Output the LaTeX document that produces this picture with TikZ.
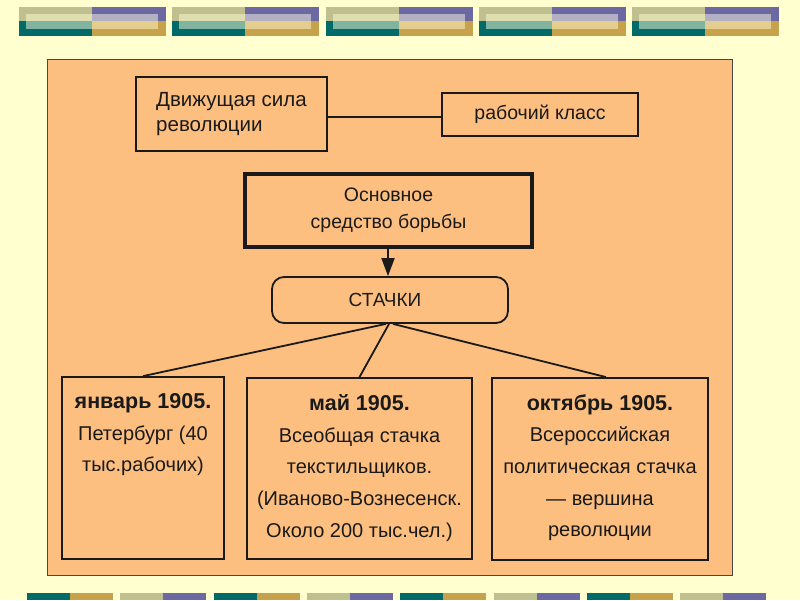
\documentclass[tikz,border=0pt]{standalone}
\usepackage{fontspec}
\setmainfont{Liberation Sans}
\usetikzlibrary{arrows.meta,calc}
\definecolor{bgyel}{HTML}{FFFFD0}
\definecolor{panel}{HTML}{FDBF80}
\definecolor{khaki}{HTML}{BFBF8F}
\definecolor{purp}{HTML}{6C68A2}
\definecolor{lkhaki}{HTML}{DEDEAE}
\definecolor{lav}{HTML}{B2B0C2}
\definecolor{lteal}{HTML}{80B4A0}
\definecolor{lgold}{HTML}{E3CE8E}
\definecolor{teal}{HTML}{006B68}
\definecolor{gold}{HTML}{C6A24C}
\definecolor{ink}{HTML}{1A1A1A}
\newcommand{\headfont}{\fontsize{21.5}{31.7}\selectfont\bfseries}
\begin{document}
\begin{tikzpicture}[x=1pt,y=-1pt,
  txt/.style={font=\fontsize{19}{25}\selectfont, text=ink},
  box/.style={draw=ink, line width=1.8pt, inner sep=0pt},
  conn/.style={draw=ink, line width=1.8pt},
  boxtxt/.style={font=\fontsize{20}{31.7}\selectfont, text=ink, align=center, inner sep=0pt, anchor=north}]
\useasboundingbox[fill=bgyel] (0,0) rectangle (800,600);
% top decorative bar
\foreach \i in {0,...,4}{
  \pgfmathsetmacro\x{19+153.25*\i}
  \fill[khaki] (\x,7) rectangle (\x+73,21);
  \fill[purp] (\x+73,7) rectangle (\x+147,21);
  \fill[teal] (\x,21) rectangle (\x+73,36);
  \fill[gold] (\x+73,21) rectangle (\x+147,36);
  \fill[lkhaki] (\x+7,14) rectangle (\x+73,21);
  \fill[lav] (\x+73,14) rectangle (\x+139,21);
  \fill[lteal] (\x+7,21) rectangle (\x+73,29);
  \fill[lgold] (\x+73,21) rectangle (\x+139,29);
}
% bottom decorative bar
\foreach \i in {0,2,4,6}{
  \pgfmathsetmacro\x{27+93.3*\i}
  \fill[teal] (\x,593) rectangle (\x+43,600);
  \fill[gold] (\x+43,593) rectangle (\x+86,600);
}
\foreach \i in {1,3,5,7}{
  \pgfmathsetmacro\x{27+93.3*\i}
  \fill[khaki] (\x,593) rectangle (\x+43,600);
  \fill[purp] (\x+43,593) rectangle (\x+86,600);
}
% panel
\filldraw[fill=panel, draw=ink!80, line width=1pt] (47,59) rectangle (732,575);
% nodes
\node[box, txt, font=\fontsize{20.5}{25}\selectfont, minimum width=191pt, minimum height=74pt, align=left] (dvig) at (231.5,114)
  {\raisebox{-2pt}{Движущая сила}\\\raisebox{-2pt}{революции}};
\node[box, txt, font=\fontsize{19.5}{25}\selectfont, minimum width=196pt, minimum height=43pt] (rab) at (540,114.5) {рабочий класс};
\node[box, txt, line width=3.5pt, minimum width=287pt, minimum height=73pt, align=center,
  font=\fontsize{19.5}{27}\selectfont] (osn) at (388.5,210.5) {Основное\\средство борьбы};
\node[box, txt, rounded corners=12pt, minimum width=236pt, minimum height=46pt] (stach) at (390,300) {СТАЧКИ\hspace*{10pt}};
\node[box, minimum width=162pt, minimum height=182pt] (jan) at (143,468) {};
\node[box, minimum width=225pt, minimum height=181pt] (mai) at (359.5,468.5) {};
\node[box, minimum width=216pt, minimum height=182pt] (oct) at (600,469) {};
\node[boxtxt] (jant) at ([yshift=-17pt]jan.north) {{\headfont январь 1905.}\\Петербург (40\\тыс.рабочих)};
\node[boxtxt] (mait) at ([yshift=-17pt]mai.north) {{\headfont май 1905.}\\Всеобщая стачка\\текстильщиков.\\(Иваново-Вознесенск.\\Около 200 тыс.чел.)};
\node[boxtxt] (octt) at ([yshift=-17pt]oct.north) {{\headfont октябрь 1905.}\\Всероссийская\\политическая стачка\\— вершина\\революции};
% connectors
\draw[conn] ([yshift=-3pt]dvig.east) -- ([yshift=-3pt]dvig.east -| rab.west);
\draw[conn, -{Triangle[length=18pt,width=13pt]}] ([xshift=-2pt]osn.south -| stach.north) -- ([xshift=-2pt]stach.north);
\draw[conn] ([xshift=-4pt]stach.south) -- (jan.north);
\draw[conn] ([xshift=-1pt]stach.south) -- (mai.north);
\draw[conn] ([xshift=3pt]stach.south) -- ([xshift=6pt]oct.north);
\end{tikzpicture}
\end{document}
